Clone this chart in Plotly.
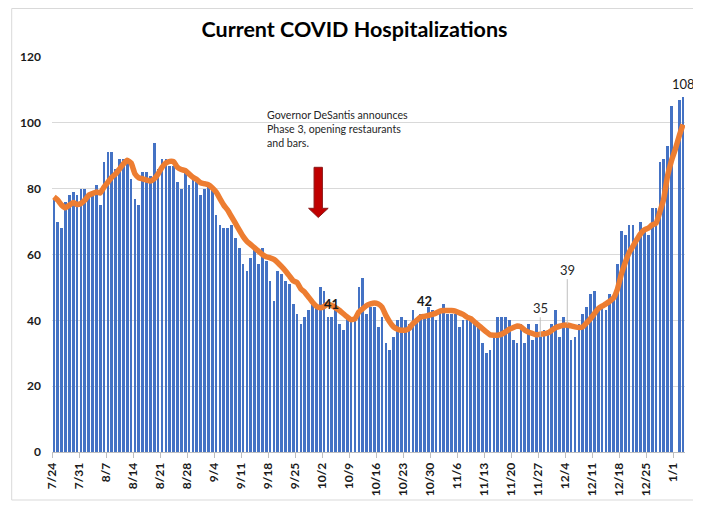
import pandas as pd
import plotly.graph_objects as go

# ---- data ----
start_date = "2020-07-24"
end_date = "2021-01-03"

hospitalizations = [
    77, 70, 68, 76, 78, 79, 78, 80, 80, 78, 79, 81, 75, 88, 91, 91, 86, 89, 89, 89,
    83, 77, 75, 85, 85, 84, 94, 86, 89, 89, 87, 87, 82, 80, 85, 81, 83, 82, 78, 80,
    81, 80,
    72, 69, 68, 68, 69, 65, 62, 57, 55, 59, 62, 57, 62, 58, 52, 46, 55, 54, 52, 51,
    45, 42,
    39, 41, 43, 45, 45, 50, 49, 41, 41, 43, 39, 37, 41, 41, 40, 50, 53, 42, 44, 44,
    38, 41, 33, 31, 35, 40, 41, 40, 39, 43, 40, 42, 42,
    44, 43, 40, 43, 45, 42, 42, 42, 38, 40, 40, 41, 40, 38, 33, 30, 31, 35, 41, 41,
    41, 40, 34, 33, 39, 33, 39, 34, 39, 35, 37, 37, 39,
    43, 35, 41, 39, 34, 35, 39, 42, 44, 48, 49, 44, 44, 43, 48, 47, 57, 67, 66, 69,
    69, 64, 70, 67, 66, 74, 74, 88, 89, 93, 105, None, 107, 108,
]

moving_avg = [
    77.5, 76.5, 75, 74.2, 75, 75.8, 75.2, 75.5, 76.5, 78, 78.5, 79, 78.7, 80.5, 82,
    83.5, 84.5, 86, 87.5, 88.6, 87.8, 84.5, 83.3, 83, 82.6, 82.3, 83, 84.5, 86.5, 87.8,
    88.3, 88.2, 86.5, 85.8, 85.5, 84.5, 83.5, 82.8, 81.8, 81.5, 81.2, 80.3,
    79, 77, 75, 73.5, 71.5, 69.5, 67.5, 65.5, 64, 63, 62, 61, 60, 59.3, 59, 58.5,
    57.5, 56.3, 55, 53.5, 52, 51.5,
    49.5, 48.5, 47, 45.5, 44.3, 43.8, 44.2, 45, 44.5, 43.8, 43, 42, 41, 40.2, 40.5,
    42.5, 43.5, 44.5, 45, 45.3, 45, 44, 41.5, 39.5, 38, 37.3, 37, 37, 37.5, 39, 40,
    41, 41.2,
    41.5, 41.8, 42.2, 42.8, 43, 43, 43, 42.8, 42.3, 41.8, 41, 40.5, 39.5, 38.5, 37.5,
    36.5, 35.6, 35.5, 35.5, 35.8, 36.5, 37.3, 37.8, 38.3, 38, 37, 36.4, 36, 35.6,
    35.8, 35.9, 36.2, 37,
    37.8, 38.2, 38.5, 38.6, 38.3, 38, 37.8, 38, 39.2, 40.5, 42, 43.5, 44.3, 45, 45.8,
    46.8, 49.5, 54, 57.5, 60.5, 62.5, 64.5, 66.3, 67.5, 68, 69, 69.5, 73, 77, 84,
    88.5, 92, 96, 99.5,
]

tick_dates = [
    "2020-07-24", "2020-07-31", "2020-08-07", "2020-08-14", "2020-08-21", "2020-08-28",
    "2020-09-04", "2020-09-11", "2020-09-18", "2020-09-25", "2020-10-02", "2020-10-09",
    "2020-10-16", "2020-10-23", "2020-10-30", "2020-11-06", "2020-11-13", "2020-11-20",
    "2020-11-27", "2020-12-04", "2020-12-11", "2020-12-18", "2020-12-25", "2021-01-01",
]
tick_labels = [
    "7/24", "7/31", "8/7", "8/14", "8/21", "8/28", "9/4", "9/11", "9/18", "9/25",
    "10/2", "10/9", "10/16", "10/23", "10/30", "11/6", "11/13", "11/20", "11/27",
    "12/4", "12/11", "12/18", "12/25", "1/1",
]

# dates that carry data labels in the original chart
label_dates = ["2020-10-04", "2020-10-28", "2020-11-27", "2020-12-04", "2021-01-03"]

dates = pd.date_range(start_date, end_date, freq="D")
half_day = pd.Timedelta(hours=12)

BLUE = "#4472C4"
ORANGE = "#ED7D31"
FONT = "Lato"

fig = go.Figure()
fig.add_trace(go.Bar(
    x=dates, y=hospitalizations, marker_color=BLUE, marker_line_width=0,
    width=0.7 * 86400000, name="Hospitalized",
))
fig.add_trace(go.Scatter(
    x=dates, y=moving_avg, mode="lines", name="7-day avg",
    line=dict(color=ORANGE, width=5.5, shape="spline", smoothing=0.4),
))

# page geometry: the html body has an 8px margin
OFF = 8
W, H = 701 - OFF, 508 - OFF
L, T = 49 - OFF, 57 - OFF
R = W - (685 - OFF)
B = H - (452 - OFF)
pw, ph = W - L - R, H - T - B


def px(x):
    """page pixel x -> paper coordinate"""
    return (x - OFF - L) / pw


def py(y):
    """page pixel y -> paper coordinate"""
    return (H - B - (y - OFF)) / ph


annotations = []
value_by_date = {d.strftime("%Y-%m-%d"): v for d, v in zip(dates, hospitalizations)}
label_style = {
    "2020-10-04": dict(bold=True, ay=None),
    "2020-10-28": dict(bold=True, ay=None),
    "2020-11-27": dict(bold=False, ay=-29),
    "2020-12-04": dict(bold=False, ay=-54),
    "2021-01-03": dict(bold=False, ay=None),
}
for d in label_dates:
    v = value_by_date[d]
    st = label_style[d]
    txt = f"<b>{v}</b>" if st["bold"] else str(v)
    if st["ay"] is None:
        annotations.append(dict(
            x=d, y=v, xref="x", yref="y", text=txt, showarrow=False,
            yshift=13, font=dict(family=FONT, size=13, color="#1a1a1a"),
        ))
    else:
        annotations.append(dict(
            x=d, y=v, xref="x", yref="y", text=txt, showarrow=True,
            ax=0, ay=st["ay"], arrowhead=0, arrowwidth=1, arrowcolor="#BFBFBF",
            standoff=0, font=dict(family=FONT, size=13, color="#262626"),
        ))

annotations.append(dict(
    x=px(263), y=py(107), xref="paper", yref="paper", xanchor="left", yanchor="top",
    align="left", showarrow=False,
    text="Governor DeSantis announces<br>Phase 3, opening restaurants<br>and bars.",
    font=dict(family=FONT, size=10.6, color="#262626"),
))

arrow_path = (
    f"M {px(312.3)},{py(167.3)} L {px(320.7)},{py(167.3)} L {px(320.7)},{py(208.3)} "
    f"L {px(326.5)},{py(208.3)} L {px(316.5)},{py(217.5)} L {px(306.8)},{py(208.3)} "
    f"L {px(312.3)},{py(208.3)} Z"
)
shapes = [
    dict(type="path", path=arrow_path, xref="paper", yref="paper",
         fillcolor="#C00000", line=dict(color="#8B1A1A", width=1)),
    dict(type="rect", xref="paper", yref="paper",
         x0=px(8.5), x1=px(696), y0=py(500), y1=py(8.5),
         line=dict(color="#D9D9D9", width=1), fillcolor="rgba(0,0,0,0)", layer="below"),
]

fig.update_layout(
    width=W, height=H, autosize=False,
    margin=dict(l=L, r=R, t=T, b=B, pad=0),
    paper_bgcolor="white", plot_bgcolor="white",
    showlegend=False, bargap=0,
    title=dict(text="<b>Current COVID Hospitalizations</b>", x=0.5, xanchor="center",
               y=1 - (29 - OFF) / H, yanchor="middle",
               font=dict(family=FONT, size=21.5, color="#000000")),
    annotations=annotations, shapes=shapes,
    font=dict(family=FONT),
)
fig.update_xaxes(
    type="date",
    range=[dates[0] - half_day, dates[-1] + half_day],
    tickmode="array",
    tickvals=[pd.Timestamp(d) - half_day for d in tick_dates],
    ticktext=[f"<b>{t}</b>" for t in tick_labels],
    tickangle=-90, tickfont=dict(family=FONT, size=12, color="#1a1a1a"),
    ticks="outside", ticklen=5, tickcolor="#BFBFBF",
    showline=True, linecolor="#BFBFBF", linewidth=1,
    showgrid=False, zeroline=False,
)
fig.update_yaxes(
    range=[0, 120],
    tickvals=[0, 20, 40, 60, 80, 100, 120],
    ticktext=["<b>0</b>", "<b>20</b>", "<b>40</b>", "<b>60</b>",
              "<b>80</b>", "<b>100</b>", "<b>120</b>"],
    tickfont=dict(family=FONT, size=12, color="#1a1a1a"),
    ticks="", ticklabelstandoff=10,
    showgrid=True, gridcolor="#D9D9D9", gridwidth=1,
    zeroline=False, showline=False,
)

fig.write_html("out.html")
